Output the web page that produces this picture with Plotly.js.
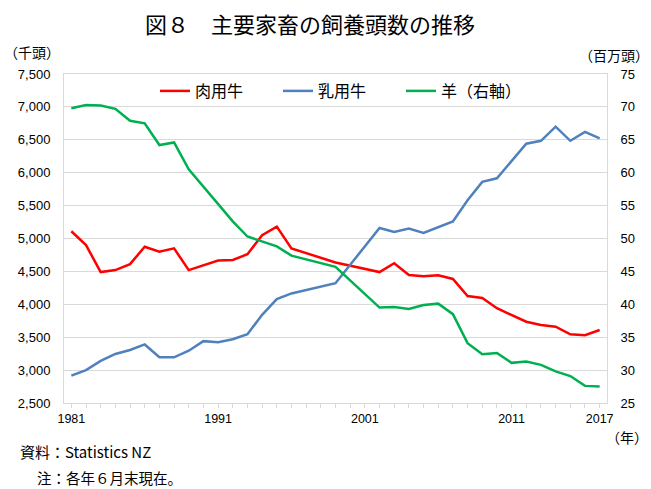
<!DOCTYPE html>
<html>
<head>
<meta charset="utf-8">
<script src="https://cdn.plot.ly/plotly-3.0.1.min.js"></script>
<style>
html,body{margin:0;padding:0;background:#fff;}
#chart{width:651px;height:489px;}
</style>
</head>
<body>
<div id="chart"></div>
<script>
// Survey years (no data for 1997, 1998, 2000, 2001)
const years = [1981,1982,1983,1984,1985,1986,1987,1988,1989,1990,1991,1992,1993,1994,1995,1996,
  1999,
  2002,2003,2004,2005,2006,2007,2008,2009,2010,2011,2012,2013,2014,2015,2016,2017];
// 肉用牛 (千頭)
const beef = [5110,4900,4490,4520,4610,4875,4800,4850,4520,4590,4665,4675,4760,5050,5180,4850,
  4635,
  4490,4625,4445,4425,4440,4385,4125,4095,3940,3840,3735,3685,3660,3545,3530,3610];
// 乳用牛 (千頭)
const dairy = [2915,3000,3140,3245,3305,3390,3195,3195,3295,3440,3425,3470,3545,3840,4080,4165,
  4320,
  5160,5100,5150,5085,5170,5260,5580,5860,5915,6175,6440,6485,6700,6485,6620,6520];
// 羊 (百万頭, 右軸)
const sheep = [69.8,70.3,70.2,69.7,67.9,67.5,64.2,64.6,60.5,57.9,55.2,52.6,50.3,49.5,48.8,47.4,
  45.7,
  39.5,39.6,39.3,39.9,40.1,38.5,34.1,32.4,32.6,31.1,31.3,30.8,29.8,29.1,27.6,27.5];
const seriesNames = ['肉用牛','乳用牛','羊（右軸）'];
const xLabelYears = [1981,1991,2001,2011,2017];

const allYears = [];
for (let y = 1981; y <= 2017; y++) allYears.push(y);
const tickText = allYears.map(y => xLabelYears.includes(y) ? String(y) : '');

const FONT = 'Liberation Sans, Noto Sans CJK JP, sans-serif';
const JFONT = 'Noto Sans CJK JP, sans-serif';
const GRID = '#d9d9d9';

const traces = [
  {x: years, y: beef, name: seriesNames[0], type: 'scatter', mode: 'lines',
   line: {color: '#FF0000', width: 2.5}, yaxis: 'y'},
  {x: years, y: dairy, name: seriesNames[1], type: 'scatter', mode: 'lines',
   line: {color: '#4F81BD', width: 2.5}, yaxis: 'y'},
  {x: years, y: sheep, name: seriesNames[2], type: 'scatter', mode: 'lines',
   line: {color: '#00B050', width: 2.5}, yaxis: 'y2'}
];

const W = 543, H = 329, L = 64, T = 74;
function px(x){ return (x - L) / W; }
function py(y){ return (T + H - y) / H; }

const layout = {
  width: 651, height: 489,
  margin: {l: L, r: 651 - L - W, t: T, b: 489 - T - H},
  paper_bgcolor: '#fff', plot_bgcolor: '#fff',
  font: {family: FONT, size: 12, color: '#000'},
  title: {text: '図８　主要家畜の飼養頭数の推移', font: {family: JFONT, size: 22, color: '#000'},
          x: 310/651, xanchor: 'center', y: 1 - 25/489, yanchor: 'middle'},
  showlegend: true,
  legend: {orientation: 'h', x: px(155), xanchor: 'left', y: py(91), yanchor: 'middle',
           font: {family: JFONT, size: 16, color: '#000'},
           entrywidth: 78, entrywidthmode: 'pixels', bgcolor: 'rgba(0,0,0,0)', traceorder: 'normal'},
  xaxis: {range: [1980.5, 2017.5], tickmode: 'array', tickvals: allYears, ticktext: tickText,
          ticks: 'outside', ticklen: 4, tickcolor: GRID, showgrid: false, zeroline: false,
          showline: true, linecolor: GRID, linewidth: 1, mirror: true,
          tickfont: {family: FONT, size: 12.5, color: '#000'}, fixedrange: true},
  yaxis: {range: [2500, 7500], dtick: 500, tick0: 2500, tickformat: ',', showgrid: true,
          gridcolor: GRID, gridwidth: 1, zeroline: false, showline: true, linecolor: GRID,
          ticks: '', ticklabelstandoff: 10, tickfont: {family: FONT, size: 13, color: '#000'}, fixedrange: true},
  yaxis2: {range: [25, 75], dtick: 5, tick0: 25, overlaying: 'y', side: 'right', showgrid: false,
           zeroline: false, showline: true, linecolor: GRID, ticks: '', ticklabelstandoff: 10,
           tickfont: {family: FONT, size: 13, color: '#000'}, fixedrange: true},
  annotations: [
    {text: '（千頭）', xref: 'paper', yref: 'paper', x: px(32), y: py(52), xanchor: 'center', yanchor: 'middle',
     showarrow: false, font: {family: JFONT, size: 14, color: '#000'}},
    {text: '（百万頭）', xref: 'paper', yref: 'paper', x: px(614), y: py(55), xanchor: 'center', yanchor: 'middle',
     showarrow: false, font: {family: JFONT, size: 14, color: '#000'}},
    {text: '（年）', xref: 'paper', yref: 'paper', x: px(627), y: py(437), xanchor: 'center', yanchor: 'middle',
     showarrow: false, font: {family: JFONT, size: 14, color: '#000'}},
    {text: '資料：Statistics NZ', xref: 'paper', yref: 'paper', x: px(18), y: py(451), xanchor: 'left', yanchor: 'middle',
     showarrow: false, font: {family: JFONT, size: 15, color: '#000'}},
    {text: '注：各年６月末現在。', xref: 'paper', yref: 'paper', x: px(35), y: py(477), xanchor: 'left', yanchor: 'middle',
     showarrow: false, font: {family: JFONT, size: 14.5, color: '#000'}}
  ]
};

Plotly.newPlot('chart', traces, layout, {displayModeBar: false, staticPlot: true});
</script>
</body>
</html>
